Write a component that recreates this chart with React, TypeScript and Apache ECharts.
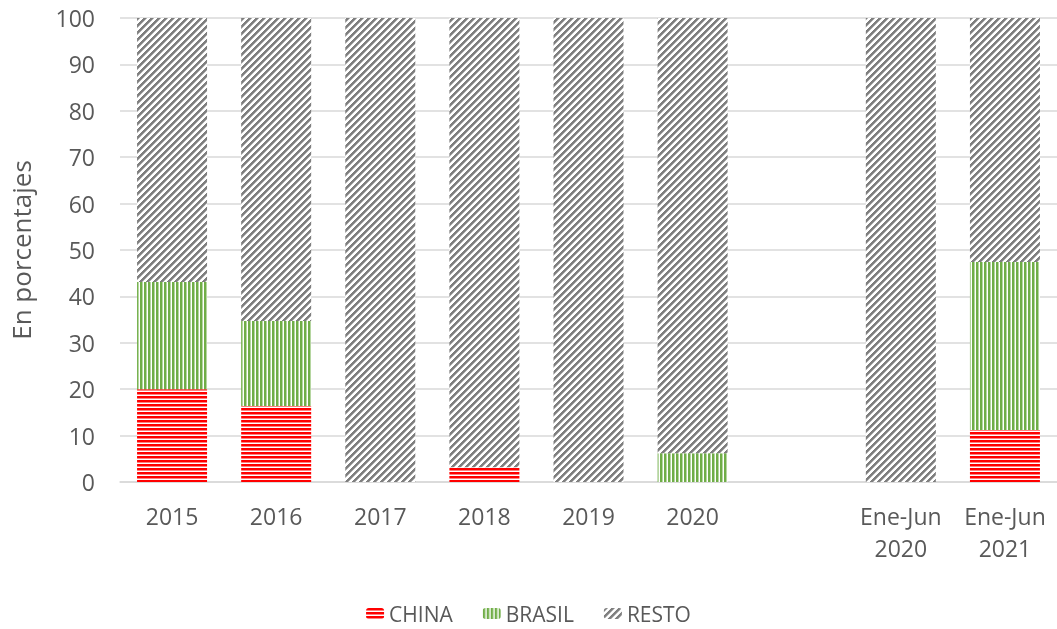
import React, { useEffect, useRef } from "react";
import * as echarts from "echarts";

const categories = ["2015", "2016", "2017", "2018", "2019", "2020", "", "Ene-Jun\n2020", "Ene-Jun\n2021"];
const china: (number | string)[] = [20, 16.4, 0, 3.2, 0, 0, "-", 0, 11.2];
const brasil: (number | string)[] = [23.1, 18.3, 0, 0, 0, 6.2, "-", 0, 36.2];
const resto: (number | string)[] = [56.9, 65.3, 100, 96.8, 100, 93.8, "-", 100, 52.6];
const yTicks = [0, 10, 20, 30, 40, 50, 60, 70, 80, 90, 100];

function makePattern(kind: string): string {
  const c = document.createElement("canvas");
  const size = kind === "resto" ? 7 : 8;
  c.width = size;
  c.height = size;
  const ctx = c.getContext("2d")!;
  ctx.fillStyle = "#ffffff";
  ctx.fillRect(0, 0, size, size);
  for (let y = 0; y < size; y++) {
    for (let x = 0; x < size; x++) {
      let col: string | null = null;
      if (kind === "china") {
        const r = y % 4;
        if (r === 0 || r === 1) col = "#ff0000";
        else if (r === 2) col = "#ff8080";
      } else if (kind === "brasil") {
        const r = x % 4;
        if (r === 0 || r === 1) col = "#70ad47";
        else if (r === 2) col = "#b5d6a0";
      } else {
        const r = (x + y) % 7;
        if (r < 3) col = "#7f7f7f";
        else if (r === 3) col = "#b5b5b5";
      }
      if (col) {
        ctx.fillStyle = col;
        ctx.fillRect(x, y, 1, 1);
      }
    }
  }
  return c.toDataURL();
}

export default function App() {
  const ref = useRef<HTMLDivElement>(null);
  useEffect(() => {
    if (!ref.current) return;
    const chart = echarts.init(ref.current, undefined, { renderer: "svg" });
    const pat = (k: string) => ({ image: makePattern(k), repeat: "repeat" });
    const font = "'Open Sans', 'Noto Sans', sans-serif";
    chart.setOption({
      animation: false,
      textStyle: { fontFamily: font },
      grid: { left: 118, right: 0, top: 18, bottom: 147, containLabel: false },
      legend: {
        bottom: 0,
        left: "center",
        itemWidth: 18,
        itemHeight: 11,
        itemGap: 30,
        textStyle: { color: "#595959", fontSize: 21, fontFamily: font },
        data: ["CHINA", "BRASIL", "RESTO"],
      },
      xAxis: {
        type: "category",
        data: categories,
        axisTick: { show: false },
        axisLine: { show: true, lineStyle: { color: "#d9d9d9", width: 1.5 } },
        axisLabel: { color: "#595959", fontSize: 23, margin: 18, lineHeight: 32, interval: 0, fontFamily: font },
      },
      yAxis: {
        type: "value",
        min: 0,
        max: 100,
        interval: 10,
        name: "En porcentajes",
        nameLocation: "middle",
        nameGap: 86,
        nameRotate: 90,
        nameTextStyle: { color: "#595959", fontSize: 26, fontFamily: font },
        axisLine: { show: false },
        axisTick: { show: false },
        axisLabel: {
          color: "#595959",
          fontSize: 23,
          margin: 25,
          fontFamily: font,
          formatter: (v: number) => (yTicks.includes(v) ? String(v) : ""),
        },
        splitLine: { lineStyle: { color: "#d9d9d9", width: 1.5 } },
      },
      series: [
        { name: "CHINA", type: "bar", stack: "s", barWidth: 70, data: china, itemStyle: { color: pat("china") } },
        { name: "BRASIL", type: "bar", stack: "s", barWidth: 70, data: brasil, itemStyle: { color: pat("brasil") } },
        { name: "RESTO", type: "bar", stack: "s", barWidth: 70, data: resto, itemStyle: { color: pat("resto") } },
      ],
    });
    return () => chart.dispose();
  }, []);
  return <div ref={ref} style={{ position: "fixed", left: 0, top: 0, width: 1057, height: 629 }} />;
}
